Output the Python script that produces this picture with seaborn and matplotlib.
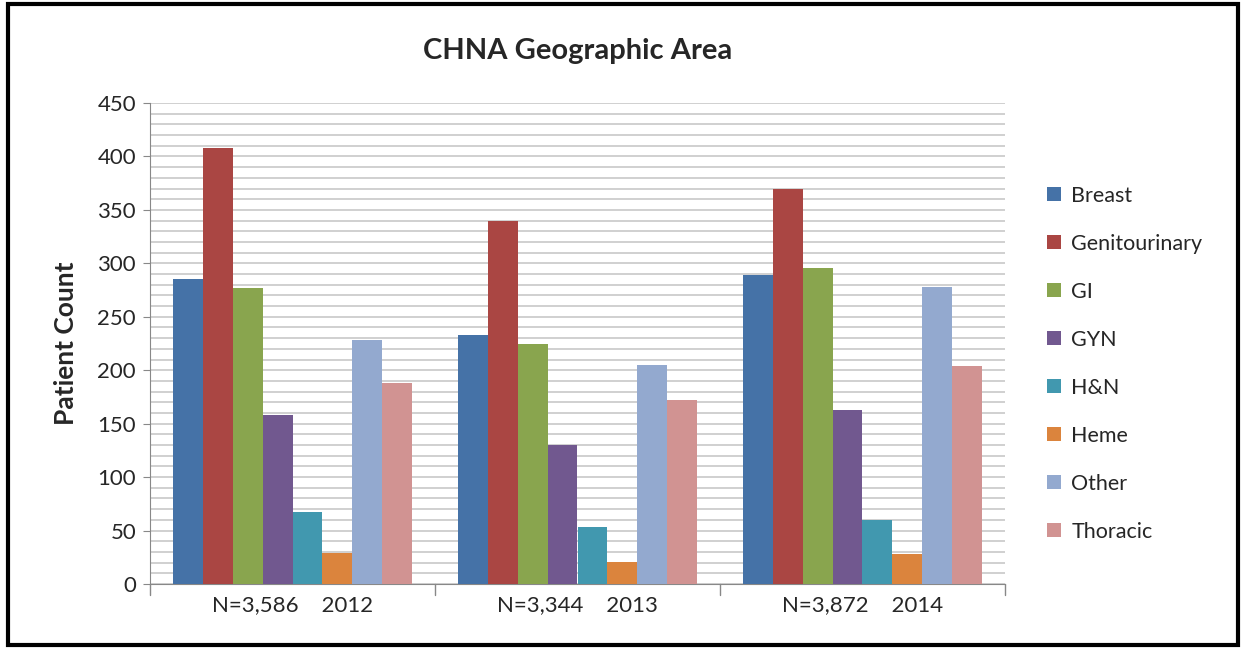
import numpy as np
import pandas as pd
import matplotlib
matplotlib.use('Agg')
import matplotlib.pyplot as plt
import seaborn as sns
from matplotlib.patches import Rectangle

sns.set_style('white')
plt.rcParams['font.family'] = ['Lato', 'DejaVu Sans']

# 데이터
years = ['2012', '2013', '2014']
totals = ['N=3,586', 'N=3,344', 'N=3,872']
sites = ['Breast', 'Genitourinary', 'GI', 'GYN', 'H&N', 'Heme', 'Other', 'Thoracic']
counts_2012 = [285, 408, 277, 158, 67, 29, 228, 188]
counts_2013 = [233, 340, 225, 130, 53, 21, 205, 172]
counts_2014 = [289, 370, 296, 163, 60, 28, 278, 204]
colors = ['#4572A7', '#AA4643', '#89A54E', '#71588F', '#4198AF', '#DB843D', '#93A9CF', '#D19392']

rows = []
for yr, vals in zip(years, [counts_2012, counts_2013, counts_2014]):
    for s, v in zip(sites, vals):
        rows.append({'year': yr, 'site': s, 'count': v})
df = pd.DataFrame(rows)

fig = plt.figure(figsize=(12.43, 6.49), dpi=100)
ax = fig.add_axes([150 / 1243, 1 - 584 / 649, 855 / 1243, 481 / 649])

sns.barplot(data=df, x='year', y='count', hue='site', hue_order=sites,
            palette=colors, width=0.84, saturation=1, ax=ax, zorder=3,
            edgecolor='none')

# 축 설정
ax.set_ylim(0, 450)
ax.set_xlim(-0.5, 2.5)
ax.set_yticks(np.arange(0, 451, 50))
ax.set_yticks(np.arange(0, 451, 10), minor=True)
ax.yaxis.grid(True, which='both', color='#c8c8c8', linewidth=1.2, zorder=0)
ax.set_axisbelow(True)
ax.tick_params(axis='y', which='major', labelsize=16, length=5, color='#888888',
               direction='out', left=True, pad=5)
ax.tick_params(axis='y', which='minor', length=0)
ax.set_xticks([0, 1, 2])
ax.set_xticklabels([f'{t}    {y}' for t, y in zip(totals, years)], fontsize=16)
ax.tick_params(axis='x', length=0, pad=8)
# 카테고리 경계 눈금
for xb in [-0.5, 0.5, 1.5, 2.5]:
    ax.plot([xb, xb], [0, -10], color='#888888', lw=1, clip_on=False)
for sp in ['top', 'right']:
    ax.spines[sp].set_visible(False)
for sp in ['left', 'bottom']:
    ax.spines[sp].set_color('#888888')
ax.set_xlabel('')
ax.set_ylabel('Patient Count', fontsize=19, fontweight='bold', labelpad=14)
ax.set_title('CHNA Geographic Area', fontsize=21, fontweight='bold', pad=32)

leg = ax.legend(loc='center left', bbox_to_anchor=(1.026, 0.458), frameon=False,
                fontsize=15.5, handlelength=0.65, handleheight=0.65, labelspacing=1.3,
                handletextpad=0.5)

# 바깥 테두리
fig.patches.append(Rectangle((8 / 1243, 4 / 649), 1230 / 1243, 641 / 649,
                             transform=fig.transFigure, fill=False,
                             edgecolor='black', linewidth=3))

fig.savefig('out.png', dpi=100)
